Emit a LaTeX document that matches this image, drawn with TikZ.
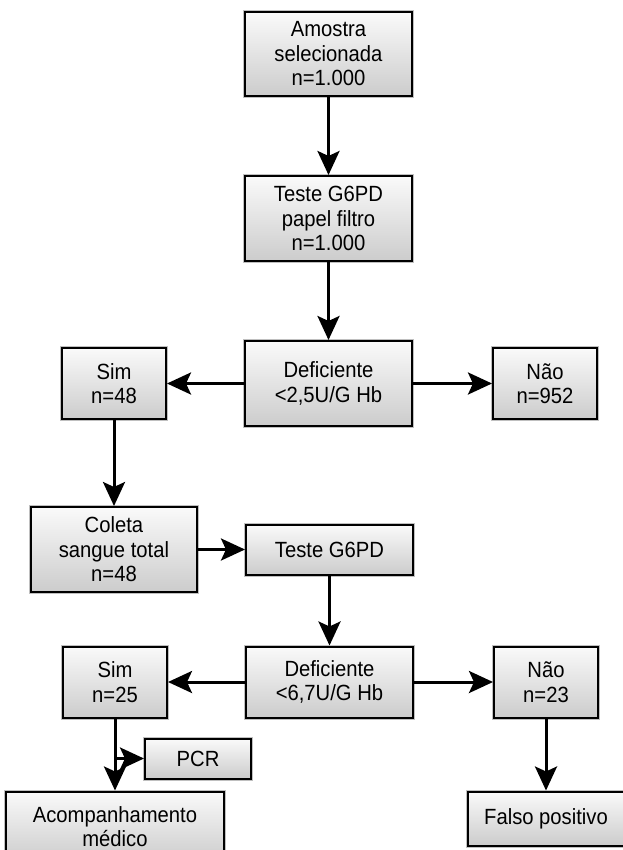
\documentclass[tikz,border=0pt]{standalone}
\usepackage{fontspec}
\setmainfont{Liberation Sans}[FakeStretch=0.92]
\usetikzlibrary{arrows.meta,positioning}

\tikzset{
  box/.style={draw=black, line width=2pt, top color=gray!4, bottom color=gray!40,
    preaction={draw=gray!50, line width=4pt},
    align=center, inner sep=0pt, font=\fontsize{22}{24.5}\selectfont},
  wide/.style={box, minimum width=167pt},
  small/.style={box, minimum width=104pt, minimum height=71pt},
}

\begin{document}
\begin{tikzpicture}[x=1pt, y=-1pt, ->, >={Stealth[length=24pt,width=22pt,inset=5pt]},
                    line width=3pt, node distance=78pt]
  \useasboundingbox (0,0) rectangle (622,850);

  \node[wide, minimum height=84pt] (amostra) at (328.5,54) {Amostra\\selecionada\\n=1.000};
  \node[wide, minimum height=85pt] (papel)  [below=of amostra]      {Teste G6PD\\papel filtro\\n=1.000};
  \node[wide, minimum height=85pt] (def1)   [below=of papel]        {Deficiente\\<2,5U/G Hb};
  \node[small]                     (sim1)   [left=77pt of def1]     {Sim\\n=48};
  \node[small]                     (nao1)   [right=79pt of def1]    {Não\\n=952};
  \node[box, minimum width=166pt, minimum height=85pt]
                                   (coleta) [below=86pt of sim1]    {Coleta\\sangue total\\n=48};
  \node[wide, minimum height=50pt] (teste)  [right=47pt of coleta]  {Teste G6PD};
  \node[wide, minimum height=71pt] (def2)   [below=70pt of teste]   {Deficiente\\<6,7U/G Hb};
  \node[small]                     (sim2)   [left=77pt of def2]     {Sim\\n=25};
  \node[small]                     (nao2)   [right=79pt of def2]    {Não\\n=23};
  \node[box, minimum width=106pt, minimum height=40pt]
                                   (pcr)    [below right=19pt and -24pt of sim2] {PCR};
  \node[box, minimum width=218pt, minimum height=70pt]
                                   (acomp)  [below=72pt of sim2]    {Acompanhamento\\médico};
  \node[box, minimum width=157pt, minimum height=54pt]
                                   (falso)  [below=72pt of nao2]    {Falso positivo};

  % branch point on the line down to acomp
  \coordinate (split) at (sim2.south |- pcr.west);

  \path (amostra) edge (papel)
        (papel)   edge (def1)
        (def1)    edge (sim1)
                  edge (nao1)
        (sim1)    edge (coleta)
        (coleta)  edge (teste)
        (teste)   edge (def2)
        (def2)    edge (sim2)
                  edge (nao2)
        (sim2)    edge (acomp)
        (nao2)    edge (falso)
        (split)   edge (pcr)
        ;
\end{tikzpicture}
\end{document}
